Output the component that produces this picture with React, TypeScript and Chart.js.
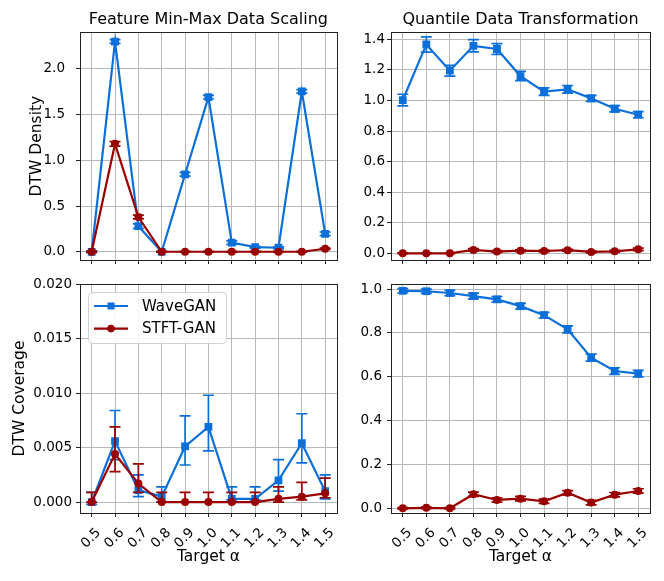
import React, { useEffect, useRef } from "react";
import { Chart, registerables } from "chart.js";

Chart.register(...registerables);

// target alpha values (x axis)
const alphas = [0.5, 0.6, 0.7, 0.8, 0.9, 1.0, 1.1, 1.2, 1.3, 1.4, 1.5];

// Feature Min-Max Data Scaling - DTW Density
const mmDensityWave = [0.0, 2.298, 0.28, 0.0, 0.847, 1.69, 0.1, 0.05, 0.044, 1.753, 0.196];
const mmDensityWaveErr = [0.01, 0.02, 0.025, 0.005, 0.02, 0.02, 0.02, 0.01, 0.01, 0.02, 0.02];
const mmDensityStft = [0.0, 1.18, 0.38, 0.0, 0.0, 0.0, 0.0, 0.0, 0.0, 0.0, 0.033];
const mmDensityStftErr = [0.005, 0.025, 0.02, 0.004, 0.004, 0.004, 0.004, 0.004, 0.004, 0.004, 0.008];

// Quantile Data Transformation - DTW Density
const qtDensityWave = [1.003, 1.367, 1.195, 1.358, 1.337, 1.16, 1.058, 1.073, 1.014, 0.946, 0.907];
const qtDensityWaveErr = [0.038, 0.05, 0.035, 0.04, 0.035, 0.03, 0.025, 0.025, 0.02, 0.02, 0.02];
const qtDensityStft = [0.0, 0.0, 0.0, 0.022, 0.011, 0.017, 0.015, 0.02, 0.009, 0.013, 0.026];
const qtDensityStftErr = [0.003, 0.003, 0.003, 0.008, 0.006, 0.006, 0.006, 0.006, 0.006, 0.006, 0.008];

// Feature Min-Max Data Scaling - DTW Coverage (asymmetric error bars)
const mmCoverageWave = [0.0, 0.0056, 0.0011, 0.0005, 0.0051, 0.0069, 0.0003, 0.0003, 0.002, 0.0054, 0.001];
const mmCoverageWaveLow = [-0.0002, 0.0039, 0.0005, 0.0, 0.0034, 0.0047, 0.0002, 0.0002, 0.001, 0.0036, 0.0003];
const mmCoverageWaveHigh = [0.0009, 0.0084, 0.0025, 0.0014, 0.0079, 0.0098, 0.0014, 0.0014, 0.0039, 0.0081, 0.0025];
const mmCoverageStft = [0.0, 0.0044, 0.0017, 0.0, 0.0, 0.0, 0.0, 0.0, 0.0003, 0.0005, 0.0008];
const mmCoverageStftLow = [0.0, 0.0028, 0.0009, 0.0, 0.0, 0.0, 0.0, 0.0, 0.0, 0.0002, 0.0004];
const mmCoverageStftHigh = [0.0009, 0.0069, 0.0035, 0.0009, 0.0009, 0.0009, 0.0009, 0.0009, 0.0014, 0.0018, 0.0022];

// Quantile Data Transformation - DTW Coverage
const qtCoverageWave = [0.992, 0.99, 0.982, 0.968, 0.953, 0.922, 0.881, 0.816, 0.687, 0.626, 0.614];
const qtCoverageWaveErr = [0.01, 0.01, 0.012, 0.013, 0.013, 0.013, 0.013, 0.016, 0.016, 0.015, 0.015];
const qtCoverageStft = [0.0, 0.002, 0.0, 0.064, 0.038, 0.044, 0.032, 0.071, 0.026, 0.062, 0.079];
const qtCoverageStftErr = [0.003, 0.003, 0.003, 0.01, 0.01, 0.01, 0.01, 0.01, 0.01, 0.01, 0.01];

// y tick values
const mmDensityTicks = [0, 0.5, 1.0, 1.5, 2.0];
const qtDensityTicks = [0, 0.2, 0.4, 0.6, 0.8, 1.0, 1.2, 1.4];
const mmCoverageTicks = [0, 0.005, 0.01, 0.015, 0.02];
const qtCoverageTicks = [0, 0.2, 0.4, 0.6, 0.8, 1.0];

const seriesNames = ["WaveGAN", "STFT-GAN"];

const BLUE = "#0b6fd9";
const RED = "#990000";
const FONT = "'DejaVu Sans', sans-serif";

const errorBars = {
  id: "errorBars",
  beforeDatasetDraw(chart: any, args: any) {
    const ds: any = chart.data.datasets[args.index];
    if (!ds.errLo) return;
    const { ctx, chartArea } = chart;
    const xs = chart.scales.x;
    const ys = chart.scales.y;
    ctx.save();
    ctx.beginPath();
    ctx.rect(chartArea.left, chartArea.top, chartArea.right - chartArea.left, chartArea.bottom - chartArea.top);
    ctx.clip();
    ctx.strokeStyle = ds.borderColor;
    ctx.lineWidth = 1.7;
    ds.data.forEach((p: any, i: number) => {
      const px = xs.getPixelForValue(p.x);
      const y0 = ys.getPixelForValue(ds.errLo[i]);
      const y1 = ys.getPixelForValue(ds.errHi[i]);
      ctx.beginPath();
      ctx.moveTo(px, y0);
      ctx.lineTo(px, y1);
      ctx.moveTo(px - 5.5, y0);
      ctx.lineTo(px + 5.5, y0);
      ctx.moveTo(px - 5.5, y1);
      ctx.lineTo(px + 5.5, y1);
      ctx.stroke();
    });
    ctx.restore();
  },
};

const frame = {
  id: "frame",
  afterDatasetsDraw(chart: any) {
    const { ctx, chartArea } = chart;
    ctx.save();
    ctx.strokeStyle = "#222";
    ctx.lineWidth = 1;
    ctx.strokeRect(
      Math.round(chartArea.left) + 0.5,
      Math.round(chartArea.top) + 0.5,
      Math.round(chartArea.right - chartArea.left),
      Math.round(chartArea.bottom - chartArea.top)
    );
    ctx.restore();
  },
};

const boxLegend = {
  id: "boxLegend",
  afterDraw(chart: any, _args: any, opts: any) {
    if (!opts || !opts.show) return;
    const { ctx, chartArea } = chart;
    const bx = chartArea.left + 8;
    const by = chartArea.top + 8;
    const bw = 138;
    const bh = 51;
    ctx.save();
    ctx.beginPath();
    ctx.roundRect(bx + 0.5, by + 0.5, bw, bh, 4);
    ctx.fillStyle = "rgba(255,255,255,0.85)";
    ctx.fill();
    ctx.strokeStyle = "#d0d0d0";
    ctx.lineWidth = 1;
    ctx.stroke();
    chart.data.datasets.forEach((ds: any, i: number) => {
      const ly = by + 14 + i * 22.6;
      ctx.strokeStyle = ds.borderColor;
      ctx.lineWidth = 2.2;
      ctx.beginPath();
      ctx.moveTo(bx + 6, ly);
      ctx.lineTo(bx + 40, ly);
      ctx.stroke();
      ctx.fillStyle = ds.borderColor;
      if (ds.pointStyle === "rect") {
        ctx.fillRect(bx + 23 - 3.5, ly - 3.5, 7, 7);
      } else {
        ctx.beginPath();
        ctx.arc(bx + 23, ly, 3.8, 0, Math.PI * 2);
        ctx.fill();
      }
      ctx.fillStyle = "#000";
      ctx.font = `15px ${FONT}`;
      ctx.textBaseline = "middle";
      ctx.textAlign = "left";
      ctx.fillText(ds.label, bx + 54, ly + 1);
    });
    ctx.restore();
  },
};

interface PanelProps {
  left: number;
  top: number;
  width: number;
  height: number;
  title?: string;
  yLabel?: string;
  xLabel?: string;
  wave: number[];
  waveLo: number[];
  waveHi: number[];
  stft: number[];
  stftLo: number[];
  stftHi: number[];
  yTicks: number[];
  yDigits: number;
  yMin: number;
  yMax: number;
  yAxisWidth: number;
  xAxisHeight: number;
  padTop: number;
  padRight: number;
  yTickPad: number;
  yTitlePad?: number;
  legend?: boolean;
}

const pts = (vals: number[]) => alphas.map((a, i) => ({ x: a, y: vals[i] }));
const minus = (v: number[], e: number[]) => v.map((d, i) => d - e[i]);
const plus = (v: number[], e: number[]) => v.map((d, i) => d + e[i]);

const Panel: React.FC<PanelProps> = (p) => {
  const chartRef = useRef<HTMLCanvasElement>(null);
  const chartInstance = useRef<Chart>();

  useEffect(() => {
    if (!chartRef.current) return;
    const ctx = chartRef.current.getContext("2d");
    if (!ctx) return;
    if (chartInstance.current) chartInstance.current.destroy();
    chartInstance.current = new Chart(ctx, {
      type: "line",
      data: {
        datasets: [
          {
            label: seriesNames[0],
            data: pts(p.wave),
            borderColor: BLUE,
            backgroundColor: BLUE,
            borderWidth: 2.2,
            pointStyle: "rect",
            pointRadius: 5.5,
            pointBorderWidth: 0,
            order: 1,
            errLo: p.waveLo,
            errHi: p.waveHi,
          } as any,
          {
            label: seriesNames[1],
            data: pts(p.stft),
            borderColor: RED,
            backgroundColor: RED,
            borderWidth: 2.2,
            pointStyle: "circle",
            pointRadius: 4,
            pointBorderWidth: 0,
            order: 0,
            errLo: p.stftLo,
            errHi: p.stftHi,
          } as any,
        ],
      },
      options: {
        animation: false,
        responsive: false,
        devicePixelRatio: 1,
        layout: { padding: { top: p.padTop, right: p.padRight, left: 0, bottom: 0 } },
        plugins: {
          legend: { display: false },
          tooltip: { enabled: false },
          title: {
            display: !!p.title,
            text: p.title || "",
            fullSize: false,
            color: "#000",
            font: { family: FONT, size: 16, weight: "normal" },
            padding: { top: 10, bottom: 3 },
          },
          boxLegend: { show: !!p.legend },
        } as any,
        scales: {
          x: {
            type: "linear",
            min: 0.45,
            max: 1.55,
            afterBuildTicks: (scale: any) => {
              scale.ticks = alphas.map((v) => ({ value: v }));
            },
            afterFit: (scale: any) => {
              scale.height = p.xAxisHeight;
            },
            grid: { color: "#b8b8b8", lineWidth: 1, tickColor: "#222", tickLength: 4 },
            border: { color: "#222", width: 1 },
            ticks: {
              autoSkip: false,
              minRotation: 45,
              maxRotation: 45,
              labelOffset: 7,
              padding: 8,
              color: "#000",
              font: { family: FONT, size: 13.5 },
              callback: (v: any) => (p.xLabel ? Number(v).toFixed(1) : ""),
            },
            title: {
              display: !!p.xLabel,
              text: p.xLabel || "",
              color: "#000",
              font: { family: FONT, size: 15.5 },
              padding: { top: 0, bottom: 15 },
            },
          },
          y: {
            type: "linear",
            min: p.yMin,
            max: p.yMax,
            afterBuildTicks: (scale: any) => {
              scale.ticks = p.yTicks.map((v) => ({ value: v }));
            },
            afterFit: (scale: any) => {
              scale.width = p.yAxisWidth;
            },
            grid: { color: "#b8b8b8", lineWidth: 1, tickColor: "#222", tickLength: 4 },
            border: { color: "#222", width: 1 },
            ticks: {
              padding: p.yTickPad,
              color: "#000",
              font: { family: FONT, size: 13.5 },
              callback: (v: any) => Number(v).toFixed(p.yDigits),
            },
            title: {
              display: !!p.yLabel,
              text: p.yLabel || "",
              color: "#000",
              font: { family: FONT, size: 15.5 },
              padding: { top: p.yTitlePad || 0, bottom: 0 },
            },
          },
        },
      },
      plugins: [errorBars, frame, boxLegend],
    });
    return () => {
      if (chartInstance.current) {
        chartInstance.current.destroy();
        chartInstance.current = undefined;
      }
    };
  }, []);

  return (
    <canvas
      ref={chartRef}
      width={p.width}
      height={p.height}
      style={{ position: "absolute", left: p.left, top: p.top, width: p.width, height: p.height }}
    />
  );
};

const App: React.FC = () => {
  return (
    <div style={{ position: "fixed", left: 0, top: 0, width: 664, height: 581, background: "#fff" }}>
      <Panel
        left={0}
        top={0}
        width={345}
        height={284}
        title="Feature Min-Max Data Scaling"
        yLabel="DTW Density"
        wave={mmDensityWave}
        waveLo={minus(mmDensityWave, mmDensityWaveErr)}
        waveHi={plus(mmDensityWave, mmDensityWaveErr)}
        stft={mmDensityStft}
        stftLo={minus(mmDensityStft, mmDensityStftErr)}
        stftHi={plus(mmDensityStft, mmDensityStftErr)}
        yTicks={mmDensityTicks}
        yDigits={1}
        yMin={-0.09}
        yMax={2.4}
        yAxisWidth={80}
        xAxisHeight={24}
        padTop={0}
        padRight={6}
        yTickPad={11}
        yTitlePad={28}
      />
      <Panel
        left={345}
        top={0}
        width={319}
        height={284}
        title="Quantile Data Transformation"
        wave={qtDensityWave}
        waveLo={minus(qtDensityWave, qtDensityWaveErr)}
        waveHi={plus(qtDensityWave, qtDensityWaveErr)}
        stft={qtDensityStft}
        stftLo={minus(qtDensityStft, qtDensityStftErr)}
        stftHi={plus(qtDensityStft, qtDensityStftErr)}
        yTicks={qtDensityTicks}
        yDigits={1}
        yMin={-0.044}
        yMax={1.447}
        yAxisWidth={46}
        xAxisHeight={24}
        padTop={0}
        padRight={14}
        yTickPad={2}
      />
      <Panel
        left={0}
        top={268}
        width={345}
        height={313}
        yLabel="DTW Coverage"
        xLabel="Target α"
        wave={mmCoverageWave}
        waveLo={mmCoverageWaveLow}
        waveHi={mmCoverageWaveHigh}
        stft={mmCoverageStft}
        stftLo={mmCoverageStftLow}
        stftHi={mmCoverageStftHigh}
        yTicks={mmCoverageTicks}
        yDigits={3}
        yMin={-0.001}
        yMax={0.02}
        yAxisWidth={80}
        xAxisHeight={68}
        padTop={16}
        padRight={6}
        yTickPad={4}
        yTitlePad={11}
        legend
      />
      <Panel
        left={345}
        top={268}
        width={319}
        height={313}
        xLabel="Target α"
        wave={qtCoverageWave}
        waveLo={minus(qtCoverageWave, qtCoverageWaveErr)}
        waveHi={plus(qtCoverageWave, qtCoverageWaveErr)}
        stft={qtCoverageStft}
        stftLo={minus(qtCoverageStft, qtCoverageStftErr)}
        stftHi={plus(qtCoverageStft, qtCoverageStftErr)}
        yTicks={qtCoverageTicks}
        yDigits={1}
        yMin={-0.0215}
        yMax={1.023}
        yAxisWidth={46}
        xAxisHeight={68}
        padTop={16}
        padRight={14}
        yTickPad={5}
      />
    </div>
  );
};

export default App;
